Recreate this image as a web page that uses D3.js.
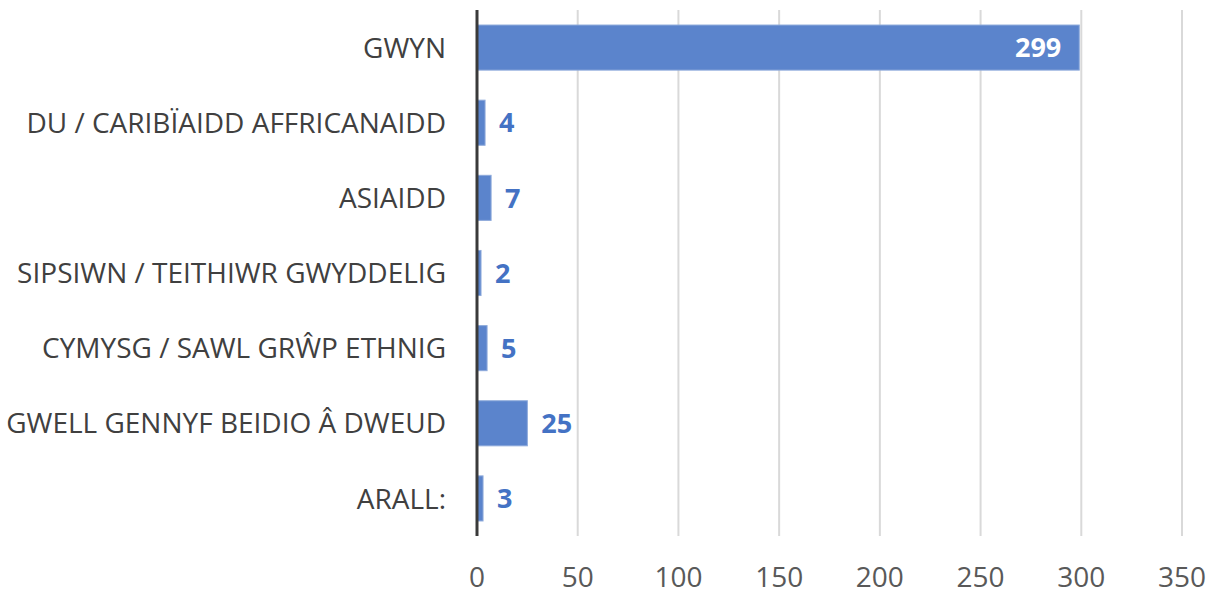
<!DOCTYPE html>
<html lang="cy">
<head>
<meta charset="UTF-8">
<title>Grŵp ethnig</title>
<script src="https://d3js.org/d3.v7.min.js"></script>
<style>
    body { margin: 0; background: #fff; }
    svg text { font-family: "Open Sans", "Noto Sans", sans-serif; }
    .cat { fill: #404040; font-size: 28px; }
    .tick-lbl { fill: #595959; font-size: 28px; }
    .val { font-size: 27px; font-weight: bold; }
</style>
</head>
<body>
<svg id="chart" width="1215" height="594"></svg>
<script>
    // categories and counts, top to bottom
    let categories = ["GWYN", "DU / CARIBÏAIDD AFFRICANAIDD", "ASIAIDD", "SIPSIWN / TEITHIWR GWYDDELIG",
                      "CYMYSG / SAWL GRŴP ETHNIG", "GWELL GENNYF BEIDIO Â DWEUD", "ARALL:"];
    let counts = [299, 4, 7, 2, 5, 25, 3];
    let ticks = [0, 50, 100, 150, 200, 250, 300, 350];

    let svg = d3.select('#chart');
    let plotLeft = 477, plotRight = 1182, plotTop = 10, plotBottom = 536;

    let x = d3.scaleLinear().domain([0, 350]).range([plotLeft, plotRight]);
    let y = d3.scaleBand().domain(categories).range([plotTop, plotBottom]).paddingInner(0.4).paddingOuter(0.2);

    // gridlines
    svg.append('g').selectAll('line')
        .data(ticks.filter(d => d > 0))
        .enter().append('line')
        .attr('x1', d => x(d)).attr('x2', d => x(d))
        .attr('y1', plotTop).attr('y2', plotBottom)
        .attr('stroke', '#d9d9d9').attr('stroke-width', 2);

    // bars
    svg.append('g').selectAll('rect')
        .data(counts)
        .enter().append('rect')
        .attr('x', x(0))
        .attr('y', (d, i) => y(categories[i]))
        .attr('width', d => x(d) - x(0))
        .attr('height', y.bandwidth())
        .attr('fill', '#5b84cc')
        .attr('stroke', '#8eaadb').attr('stroke-width', 1);

    // axis line at zero
    svg.append('line')
        .attr('x1', x(0)).attr('x2', x(0))
        .attr('y1', plotTop).attr('y2', plotBottom)
        .attr('stroke', '#3a3a3a').attr('stroke-width', 3);

    // category labels
    svg.append('g').selectAll('text')
        .data(categories)
        .enter().append('text')
        .attr('class', 'cat')
        .attr('x', plotLeft - 31)
        .attr('y', d => y(d) + y.bandwidth() / 2)
        .attr('dy', '0.36em')
        .attr('text-anchor', 'end')
        .text(d => d);

    // value labels
    svg.append('g').selectAll('text')
        .data(counts)
        .enter().append('text')
        .attr('class', 'val')
        .attr('x', d => d > 200 ? x(d) - 18 : x(d) + 14)
        .attr('y', (d, i) => y(categories[i]) + y.bandwidth() / 2)
        .attr('dy', '0.36em')
        .attr('text-anchor', d => d > 200 ? 'end' : 'start')
        .attr('fill', d => d > 200 ? '#ffffff' : '#4472c4')
        .text(d => d);

    // x tick labels
    svg.append('g').selectAll('text')
        .data(ticks)
        .enter().append('text')
        .attr('class', 'tick-lbl')
        .attr('x', d => x(d))
        .attr('y', 577)
        .attr('dy', '0.36em')
        .attr('text-anchor', 'middle')
        .text(d => d);
</script>
</body>
</html>
